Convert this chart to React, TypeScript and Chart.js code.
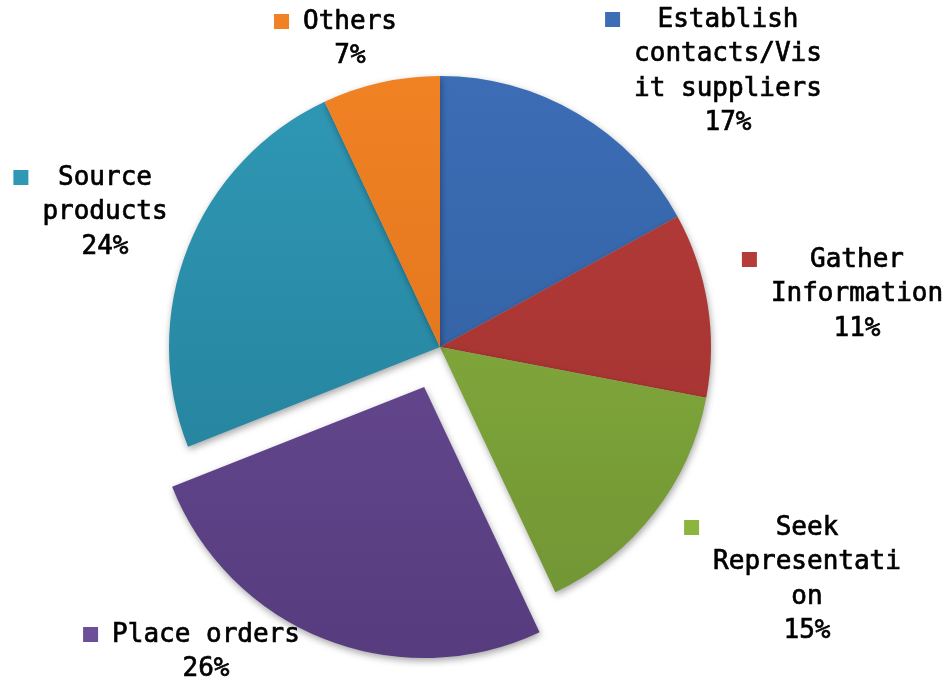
import React, { useEffect, useRef } from "react";
import { Chart, registerables } from "chart.js";

Chart.register(...registerables);

const categories = [
  "Establish contacts/Visit suppliers",
  "Gather Information",
  "Seek Representation",
  "Place orders",
  "Source products",
  "Others",
];
const shares = [17, 11, 15, 26, 24, 7];
const labelLines = [
  ["Establish", "contacts/Vis", "it suppliers"],
  ["Gather", "Information"],
  ["Seek", "Representati", "on"],
  ["Place orders"],
  ["Source", "products"],
  ["Others"],
];
const topColors = ["#3c6db5", "#b63c39", "#8cb540", "#6d4f99", "#2f98b5", "#f08224"];
const bottomColors = ["#2d5a99", "#9c302e", "#6e9233", "#553a7c", "#227b94", "#d86d17"];
// Chart.js translates an arc by offset/4
const explode = [0, 0, 0, 172, 0, 0];

// label block layout relative to pie centre (dx of block centre, dy of first line)
const labelLayout = [
  [288, -327],
  [417, -87],
  [367, 181],
  [-234, 288],
  [-335, -169],
  [-90, -325],
];

const FONT = "26px 'DejaVu Sans Mono', monospace";
const LINE_H = 34.5;

const labelPlugin = {
  id: "pieLabels",
  afterDatasetsDraw(chart: any) {
    const ctx = chart.ctx;
    const meta = chart.getDatasetMeta(0);
    const base = meta.data[0];
    const cx = base.x;
    const cy = base.y;
    ctx.save();
    ctx.shadowColor = "transparent";
    ctx.font = FONT;
    ctx.fillStyle = "#000";
    ctx.strokeStyle = "#000";
    ctx.lineWidth = 0.7;
    ctx.textAlign = "center";
    ctx.textBaseline = "middle";
    shares.forEach((v, i) => {
      const lines = [...labelLines[i], v + "%"];
      const bx = cx + labelLayout[i][0];
      const by = cy + labelLayout[i][1];
      let maxW = 0;
      lines.forEach((l) => (maxW = Math.max(maxW, ctx.measureText(l).width)));
      lines.forEach((l, k) => {
        ctx.fillText(l, bx, by + k * LINE_H);
        ctx.strokeText(l, bx, by + k * LINE_H);
      });
      const left = bx - maxW / 2;
      ctx.fillStyle = topColors[i];
      ctx.fillRect(left - 29, by - 8, 15, 15);
      ctx.fillStyle = "#000";
    });
    ctx.restore();
  },
};

const shadowPlugin = {
  id: "sliceShadow",
  beforeDatasetsDraw(chart: any) {
    const ctx = chart.ctx;
    ctx.save();
    ctx.shadowColor = "rgba(0,0,0,0.35)";
    ctx.shadowBlur = 7;
    ctx.shadowOffsetX = 1;
    ctx.shadowOffsetY = 3;
  },
  afterDatasetsDraw(chart: any) {
    chart.ctx.restore();
  },
};

export default function App() {
  const ref = useRef<HTMLCanvasElement>(null);
  useEffect(() => {
    if (!ref.current) return;
    const chart = new Chart(ref.current, {
      type: "pie",
      data: {
        labels: categories,
        datasets: [
          {
            data: shares,
            offset: explode,
            borderWidth: 0,
            backgroundColor: (c: any) => {
              const ch = c.chart;
              const i = c.dataIndex;
              if (!ch.chartArea || i === undefined) return topColors[i ?? 0];
              const g = ch.ctx.createLinearGradient(0, 76, 0, 660);
              g.addColorStop(0, topColors[i]);
              g.addColorStop(1, bottomColors[i]);
              return g;
            },
          },
        ],
      },
      options: {
        animation: false,
        responsive: false,
        radius: 271,
        rotation: 0,
        layout: { padding: { left: 0, right: 69, top: 11, bottom: 0 } },
        plugins: {
          legend: { display: false },
          tooltip: { enabled: false },
        },
      } as any,
      plugins: [shadowPlugin, labelPlugin],
    });
    return () => chart.destroy();
  }, []);
  return (
    <div style={{ position: "absolute", left: 0, top: 0, width: 949, height: 683, background: "#fff" }}>
      <canvas ref={ref} width={949} height={683} style={{ width: 949, height: 683 }} />
    </div>
  );
}
